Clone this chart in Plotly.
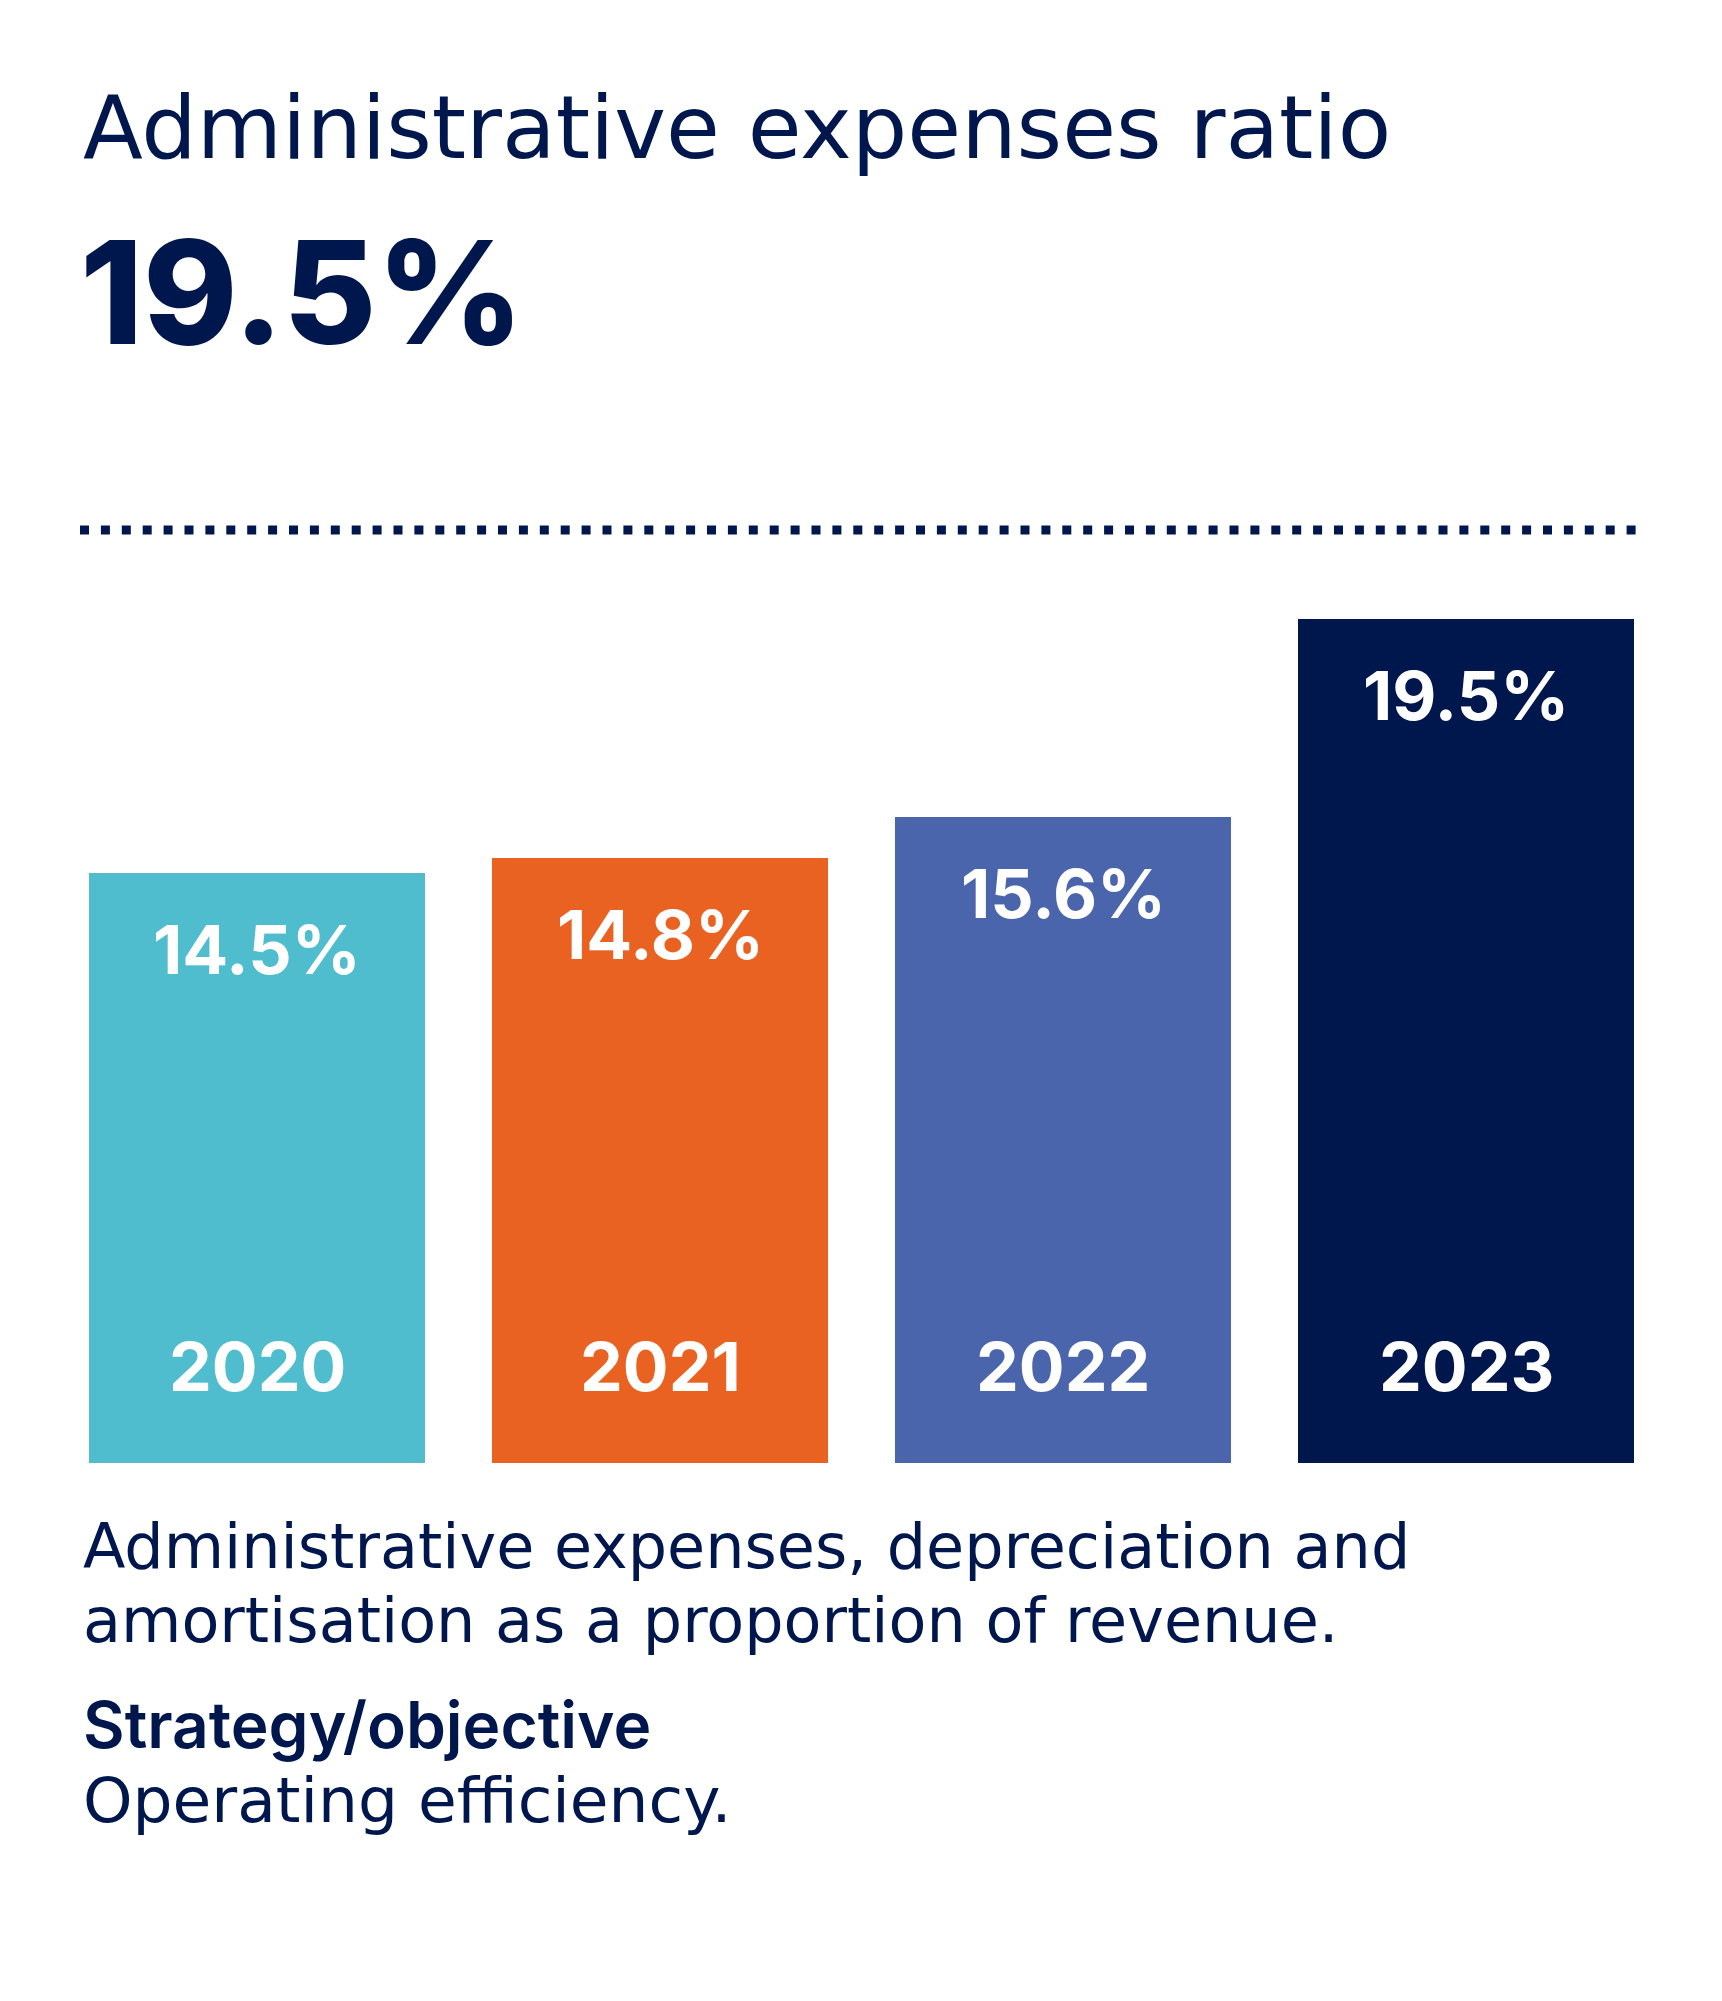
import plotly.graph_objects as go

# ---- data ----
years = ["2020", "2021", "2022", "2023"]
ratios = [14.5, 14.8, 15.6, 19.5]
value_labels = ["14.5%", "14.8%", "15.6%", "19.5%"]
bar_colors = ["#4FBDCD", "#EA6222", "#4A65AC", "#00174E"]
title_text = "Administrative expenses ratio"
headline = "19.5%"
desc_lines = ["Administrative expenses, depreciation and",
              "amortisation as a proportion of revenue."]
strategy_head = "Strategy/objective"
strategy_text = "Operating efficiency."

NAVY = "#00174E"
BOLD_FONT = "Inter, Lato, sans-serif"
REG_FONT = "DejaVu Sans, Verdana, sans-serif"

OFF = 8                       # page body margin
W, H = 1722 - OFF, 2001 - 2 * OFF
T = 600 - OFF                 # plot top (figure px)
BOTTOM_PAGE = 1463            # bar baseline on page
plot_h = (BOTTOM_PAGE - OFF) - T
B = H - T - plot_h
Y0 = 2.92
PXU = 50.92
y_range = [Y0, Y0 + plot_h / PXU]
CAT = 403.0
x_range = [-(257 - OFF) / CAT, -(257 - OFF) / CAT + W / CAT]


def py(page_px):
    return (T + plot_h - (page_px - OFF)) / plot_h


def px(page_px):
    return (page_px - OFF) / W


fig = go.Figure()
fig.add_trace(go.Bar(
    x=list(range(len(years))), y=ratios, width=0.836,
    marker=dict(color=bar_colors, line=dict(width=0)),
    hoverinfo="skip", showlegend=False,
))

ann = []
for i, (yr, v, lab) in enumerate(zip(years, ratios, value_labels)):
    ann.append(dict(x=i, y=v, xref="x", yref="y", text=lab, showarrow=False,
                    xanchor="center", yanchor="middle", yshift=-76,
                    font=dict(family=BOLD_FONT, size=68, color="white", weight=700)))
    ann.append(dict(x=i, y=0, xref="x", yref="paper", text=yr, showarrow=False,
                    xanchor="center", yanchor="middle", yshift=97,
                    font=dict(family=BOLD_FONT, size=68, color="white", weight=700)))

ann.append(dict(x=px(81), y=py(128), xref="paper", yref="paper", text=title_text,
                showarrow=False, xanchor="left", yanchor="middle",
                font=dict(family=REG_FONT, size=87.5, color=NAVY, weight=400)))
ann.append(dict(x=px(78), y=py(291), xref="paper", yref="paper", text=headline,
                showarrow=False, xanchor="left", yanchor="middle",
                font=dict(family=BOLD_FONT, size=143, color=NAVY, weight=800)))
for line, cy in zip(desc_lines, [1546, 1620]):
    ann.append(dict(x=px(81), y=py(cy), xref="paper", yref="paper", text=line,
                    showarrow=False, xanchor="left", yanchor="middle",
                    font=dict(family=REG_FONT, size=62, color=NAVY, weight=400)))
ann.append(dict(x=px(81), y=py(1724.5), xref="paper", yref="paper", text=strategy_head,
                showarrow=False, xanchor="left", yanchor="middle",
                font=dict(family=BOLD_FONT, size=64, color=NAVY, weight=600)))
ann.append(dict(x=px(81), y=py(1800.5), xref="paper", yref="paper", text=strategy_text,
                showarrow=False, xanchor="left", yanchor="middle",
                font=dict(family=REG_FONT, size=63, color=NAVY, weight=400)))

fig.update_layout(
    width=W, height=H,
    margin=dict(l=0, r=0, t=T, b=B, pad=0),
    paper_bgcolor="white", plot_bgcolor="white",
    xaxis=dict(range=x_range, visible=False, fixedrange=True),
    yaxis=dict(range=y_range, visible=False, fixedrange=True),
    annotations=ann,
    shapes=[dict(type="line", xref="paper", yref="paper",
                 x0=px(80), x1=px(1636), y0=py(530), y1=py(530),
                 line=dict(color=NAVY, width=9, dash="9px,11.9px"))],
    bargap=0,
)

fig.write_html("out.html")
